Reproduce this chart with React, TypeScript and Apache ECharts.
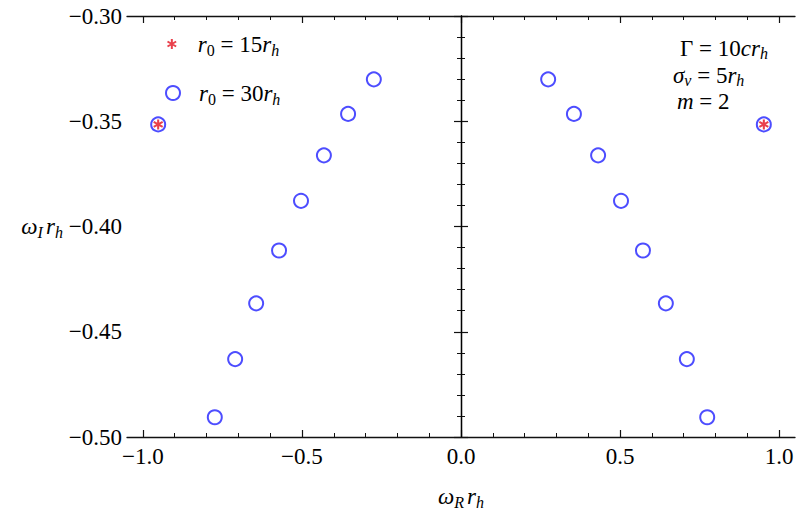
import React, { useEffect, useRef } from "react";
import * as echarts from "echarts";

// ---- data ----
const circleX = [-0.952, -0.774, -0.71, -0.644, -0.572, -0.503, -0.431, -0.355, -0.274, 0.274, 0.355, 0.431, 0.503, 0.572, 0.644, 0.71, 0.774, 0.952];
const circleY = [-0.3515, -0.4906, -0.463, -0.4365, -0.4114, -0.3878, -0.3662, -0.3465, -0.3301, -0.3301, -0.3465, -0.3662, -0.3878, -0.4114, -0.4365, -0.463, -0.4906, -0.3515];
const starX = [-0.952, 0.952];
const starY = [-0.3515, -0.3515];

const xMajorTicks = [-1.0, -0.5, 0.0, 0.5, 1.0];
const xMinorTicks = [-1.0, -0.9, -0.8, -0.7, -0.6, -0.5, -0.4, -0.3, -0.2, -0.1, 0.0, 0.1, 0.2, 0.3, 0.4, 0.5, 0.6, 0.7, 0.8, 0.9, 1.0];
const yTickLabels = ["−0.50", "−0.45", "−0.40", "−0.35", "−0.30"];

const SERIES_15 = "r₀ = 15rₕ";
const SERIES_30 = "r₀ = 30rₕ";
const RICH_NAMES: Record<string, string> = {
  [SERIES_15]: "{sp| }{i|r}{sn|0}{n| = 15}{i|r}{si|h}",
  [SERIES_30]: "{sp| }{i|r}{sn|0}{n| = 30}{i|r}{si|h}",
};

const FONT = "Liberation Serif";
const FS = 23;
const STAR_PATH =
  "path://M-0.2,-1L0.2,-1L0.2,1L-0.2,1Z M0.766,-0.673L0.966,-0.327L-0.766,0.673L-0.966,0.327Z M0.966,0.327L0.766,0.673L-0.966,-0.327L-0.766,-0.673Z";

const rich = (sp: number, lh: number = 28) => ({
  sp: { width: sp, fontSize: FS, lineHeight: lh },
  i: { fontFamily: FONT, fontStyle: "italic", fontSize: FS, lineHeight: lh, color: "#000" },
  n: { fontFamily: FONT, fontSize: FS, lineHeight: lh, color: "#000" },
  g: { fontFamily: FONT, fontSize: FS, lineHeight: lh, color: "#000", width: 3 },
  si: { fontFamily: FONT, fontStyle: "italic", fontSize: 16, lineHeight: 16, padding: [lh - 16, 0, 0, 0], color: "#000" },
  sn: { fontFamily: FONT, fontSize: 16, lineHeight: 16, padding: [lh - 16, 0, 0, 0], color: "#000" },
});

export default function App() {
  const ref = useRef<HTMLDivElement>(null);
  useEffect(() => {
    if (!ref.current) return;
    const chart = echarts.init(ref.current, null, { renderer: "svg" });
    const axisLine = { show: true, lineStyle: { color: "#111", width: 1.3 } };
    const labelStyle = { fontFamily: FONT, fontSize: FS, color: "#000" };
    const xBase = { type: "value" as const, min: -1.05, max: 1.05, splitLine: { show: false } };
    const yBase = {
      type: "value" as const,
      min: -0.5,
      max: -0.3,
      interval: 0.05,
      splitLine: { show: false },
      axisTick: { show: true, inside: true, length: 7, lineStyle: { color: "#111", width: 1.2 } },
      minorTick: { show: true, splitNumber: 5, length: 4, lineStyle: { color: "#111", width: 1 } },
    };
    const option: any = {
      animation: false,
      backgroundColor: "#fff",
      grid: { left: 127, right: 2, top: 16, bottom: 81, containLabel: false },
      xAxis: [
        {
          ...xBase,
          position: "bottom",
          axisLine,
          axisTick: { show: true, inside: true, length: 7, customValues: xMajorTicks, lineStyle: { color: "#111", width: 1.2 } },
          axisLabel: {
            ...labelStyle,
            margin: 8,
            customValues: xMajorTicks,
            formatter: (v: number) => (v < 0 ? "−" : "") + Math.abs(v).toFixed(1),
          },
          name: "{i|ω}{si|R}{g| }{i|r}{si|h}",
          nameLocation: "middle",
          nameGap: 45,
          nameTextStyle: { rich: rich(0) },
        },
        {
          ...xBase,
          position: "bottom",
          axisLine: { show: false },
          axisTick: { show: true, inside: true, length: 4, customValues: xMinorTicks, lineStyle: { color: "#111", width: 1 } },
          axisLabel: { show: false },
        },
        {
          ...xBase,
          position: "top",
          axisLine,
          axisTick: { show: true, inside: true, length: 7, customValues: xMajorTicks, lineStyle: { color: "#111", width: 1.2 } },
          axisLabel: { show: false },
        },
        {
          ...xBase,
          position: "top",
          axisLine: { show: false },
          axisTick: { show: true, inside: true, length: 4, customValues: xMinorTicks, lineStyle: { color: "#111", width: 1 } },
          axisLabel: { show: false },
        },
      ],
      yAxis: [
        {
          ...yBase,
          position: "left",
          axisLine,
          axisLabel: {
            ...labelStyle,
            margin: 5,
            formatter: (v: number) => {
              const idx = Math.round((v + 0.5) / 0.05);
              return yTickLabels[idx] ?? "";
            },
          },
          name: "{i|ω}{si|I}{g| }{i|r}{si|h}",
          nameLocation: "middle",
          nameRotate: 0,
          nameGap: 64,
          nameTextStyle: { rich: rich(0), align: "right", verticalAlign: "middle" },
        },
        {
          ...yBase,
          position: "right",
          axisLine,
          axisLabel: { show: false },
        },
      ],
      legend: [
        {
          data: [SERIES_15],
          orient: "vertical",
          left: 167,
          top: 30,
          padding: 0,
          itemWidth: 10,
          itemHeight: 10,
          selectedMode: false,
          formatter: (name: string) => RICH_NAMES[name] ?? name,
          textStyle: { rich: rich(16) },
        },
        {
          data: [SERIES_30],
          orient: "vertical",
          left: 165,
          top: 79,
          padding: 0,
          itemWidth: 14,
          itemHeight: 14,
          selectedMode: false,
          formatter: (name: string) => RICH_NAMES[name] ?? name,
          textStyle: { rich: rich(14) },
        },
      ],
      graphic: [
        { type: "text", left: 680, top: 36, style: { text: "{n|Γ = 10}{i|cr}{si|h}", rich: rich(0, 25) } },
        { type: "text", left: 673, top: 63, style: { text: "{i|σ}{si|v}{n| = 5}{i|r}{si|h}", rich: rich(0, 25) } },
        { type: "text", left: 677, top: 90, style: { text: "{i|m}{n| = 2}", rich: rich(0, 25) } },
      ],
      series: [
        {
          name: SERIES_30,
          type: "scatter",
          xAxisIndex: 0,
          yAxisIndex: 0,
          symbol: "emptyCircle",
          symbolSize: 14,
          itemStyle: { color: "#2020ff", borderWidth: 1.1 },
          data: circleX.map((x, k) => [x, circleY[k]]),
          markLine: {
            silent: true,
            symbol: ["none", "none"],
            label: { show: false },
            lineStyle: { color: "#000", width: 1, type: "solid" },
            data: [{ xAxis: 0 }],
          },
          z: 2,
        },
        {
          name: SERIES_15,
          type: "scatter",
          xAxisIndex: 0,
          yAxisIndex: 0,
          symbol: STAR_PATH,
          symbolSize: 10,
          itemStyle: { color: "#e3101e" },
          data: starX.map((x, k) => [x, starY[k]]),
          z: 3,
        },
      ],
    };
    chart.setOption(option);
    return () => chart.dispose();
  }, []);
  return (
    <div
      ref={ref}
      style={{ position: "absolute", left: 0, top: 0, width: 797, height: 518, background: "#fff" }}
    />
  );
}
